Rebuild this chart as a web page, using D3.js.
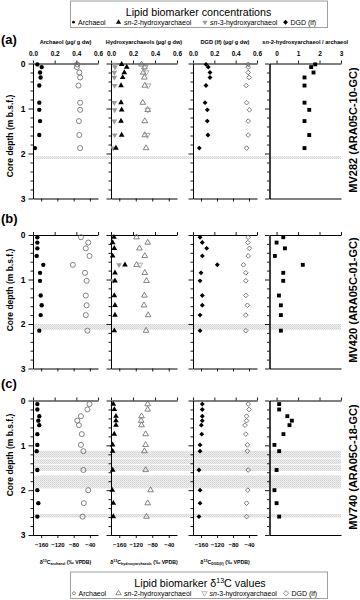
<!DOCTYPE html>
<html><head><meta charset="utf-8">
<script src="https://cdn.jsdelivr.net/npm/d3@7"></script>
<style>body{margin:0;background:#fff} svg{display:block;font-family:"Liberation Sans",Arial,sans-serif}</style>
</head><body><svg id="c" width="360" height="600"></svg>
<script>
// ---------- DATA ----------
// (a) MV282
const depthA    = [0.02,0.08,0.2,0.31,0.49,0.87,1.03,1.28,1.59,1.88];
const archConcA = [0.04,0.08,0.065,0.07,0.058,0.058,0.058,0.065,0.058,0.018];
const archIsoA  = [-71,-72,-66,-64,-68,-64,-64,-67,-66,-64];
const sn2ConcA  = [0.097,0.143,0.121,0.106,0.091,0.091,0.097,0.091,0.097,0.045];
const sn3ConcA  = [0.03,0.036,0.03,0.03,0.033,0.03,0.033,0.03,0.033,0.02];
const sn2IsoA   = [-106,-99,-102,-99,-98,-103,-91,-98,-98,-95];
const sn3IsoA   = [null,-97,-95,null,-90,null,-91,null,-92,null];
const dgdConcA  = [0.122,0.143,0.159,0.159,0.122,0.113,0.134,0.134,0.14,0.059];
const dgdIsoA   = [-42,-42,-42,-40,-47,-46,-39,-42,-42,-46];
const ratioA    = [1.8,1.61,1.72,1.3,1.3,1.3,1.52,1.3,1.52,1.3];
const bandsA    = [[2.06,2.12]];
// (b) MV420
const depthB    = [0.05,0.17,0.3,0.47,0.67,0.85,1.03,1.36,1.58,1.8,2.15];
const archConcB = [0.04,0.04,0.04,0.034,0.095,0.065,0.065,0.071,0.08,0.071,0.058];
const archIsoB  = [-62,-44,-50,-41,-82,-52,-48,-50,-48,-50,-46];
const sn2ConcB  = [0.027,0.015,0.03,0.015,0.127,0.036,0.036,0.03,0.036,0.036,0.03];
const sn3ConcB  = [null,null,null,null,0.073,null,0.02,null,null,null,null];
const sn2IsoB   = [-118,-91,-111,-98,-118,-98,-94,-99,-100,-90,-95];
const sn3IsoB   = [null,null,null,null,-110,null,null,null,null,null,null];
const dgdConcB  = [0.066,0.087,0.128,0.087,0.228,0.075,0.066,0.087,0.087,0.066,0.066];
const dgdIsoB   = [-42,-43,-39,-42,-54,-48,-48,-48,-44,-48,-48];
const ratioB    = [0.31,0.0,0.39,-0.08,1.22,0.31,0.31,0.11,0.2,0.2,0.2];
const bandsB    = [[2.0,2.13]];
// (c) MV740
const depthC    = [0.08,0.2,0.35,0.45,0.55,0.75,0.99,1.13,1.55,2.0,2.29,2.59];
const archConcC = [0.04,0.04,0.058,0.049,0.058,0.04,0.04,0.034,0.04,0.04,0.049,0.04];
const archIsoC  = [-41,-46,-62,-71,-67,-60,-62,-56,-56,-44,-55,-58];
const sn2ConcC  = [0.021,0.03,0.045,0.045,0.045,0.03,0.015,0.015,0.015,0.012,0.021,0.021];
const sn3ConcC  = [null,null,null,null,null,null,null,null,null,null,null,null];
const sn2IsoC   = [-91,-91,-106,-107,-106,-96,-96,-99,-96,-84,-91,-94];
const sn3IsoC   = [null,null,null,null,null,null,null,null,null,null,null,null];
const dgdConcC  = [0.087,0.087,0.087,0.087,0.078,0.082,0.066,0.066,0.056,0.066,0.066,0.056];
const dgdIsoC   = [-42,-40,-46,-46,-50,-48,-44,-44,-42,-43,-46,-46];
const ratioC    = [0.12,0.12,0.5,0.71,0.6,0.32,-0.1,0.12,0.0,-0.1,0.0,0.12];
const bandsC    = [[1.12,1.28],[1.30,1.42],[1.44,1.57],[1.67,1.96],[2.53,2.61]];

const concTicks  = [0,0.2,0.4,0.6];
const ratioTicks = [0,1,2,3];
const isoTicks   = [-160,-120,-80,-40];
const depthMajor = [0,1,2,3];
const depthMinor = [0.2,0.4,0.6,0.8,1.2,1.4,1.6,1.8,2.2,2.4,2.6,2.8];
const topTitles  = ["Archaeol (µg/ g dw)","Hydroxyarchaeols (µg/ g dw)","DGD (lf) (µg/ g dw)","sn-2-hydroxyarchaeol / archaeol"];
const isoSubs    = ["archaeol","hydroxyarchaeols","DGD(lf)"];

// ---------- LAYOUT ----------
const svg = d3.select('#c');
const defs = svg.append('defs');
const pat = defs.append('pattern').attr('id','hatch').attr('width',2).attr('height',2).attr('patternUnits','userSpaceOnUse');
pat.append('rect').attr('width',2).attr('height',2).attr('fill','#efefef');
pat.append('rect').attr('width',1).attr('height',1).attr('fill','#d2d2d2');
pat.append('rect').attr('x',1).attr('y',1).attr('width',1).attr('height',1).attr('fill','#dcdcdc');

const cols = [[33,98],[111,177],[193,257],[269.5,341]];
const concX = cols.slice(0,3).map(r => d3.scaleLinear().domain([0,0.6]).range(r));
const isoX  = cols.slice(0,3).map(r => d3.scaleLinear().domain([-180,-20]).range(r));
const ratioX = d3.scaleLinear().domain([-0.33,3]).range(cols[3]);

const rows = [
 {tag:'(a)', tagY:44, top:63.5, bottom:198.5, core:'MV282 (ARA05C-10-GC)', coreY:130, depthY:136, topLabels:true, bottomLabels:false,
  depth:depthA, archConc:archConcA, archIso:archIsoA, sn2Conc:sn2ConcA, sn3Conc:sn3ConcA, sn2Iso:sn2IsoA, sn3Iso:sn3IsoA, dgdConc:dgdConcA, dgdIso:dgdIsoA, ratio:ratioA, bands:bandsA},
 {tag:'(b)', tagY:223, top:235, bottom:368.5, core:'MV420 (ARA05C-01-GC)', coreY:300, depthY:290, topLabels:false, bottomLabels:false,
  depth:depthB, archConc:archConcB, archIso:archIsoB, sn2Conc:sn2ConcB, sn3Conc:sn3ConcB, sn2Iso:sn2IsoB, sn3Iso:sn3IsoB, dgdConc:dgdConcB, dgdIso:dgdIsoB, ratio:ratioB, bands:bandsB},
 {tag:'(c)', tagY:388, top:400.5, bottom:535, core:'MV740 (ARA05C-18-GC)', coreY:467, depthY:455, topLabels:false, bottomLabels:true,
  depth:depthC, archConc:archConcC, archIso:archIsoC, sn2Conc:sn2ConcC, sn3Conc:sn3ConcC, sn2Iso:sn2IsoC, sn3Iso:sn3IsoC, dgdConc:dgdConcC, dgdIso:dgdIsoC, ratio:ratioC, bands:bandsC}
];

const OPEN = '#666', GREY = '#9a9a9a';
const sym = (type,size) => d3.symbol().type(type).size(size)();

function styleAxis(g, fs){
  g.attr('font-family',null).attr('font-size',fs).attr('font-weight','bold');
  g.selectAll('path.domain').attr('stroke','#000').attr('stroke-width',1);
  g.selectAll('.tick line').attr('stroke','#000').attr('stroke-width',0.9);
}

function points(g, depth, vals, x, y, d, opts){
  const pts = depth.map((dep,i)=>({dep, v:vals[i]})).filter(p=>p.v!==null && p.v!==undefined);
  g.append('g').selectAll('path').data(pts).join('path')
   .attr('d', d)
   .attr('transform', p=>`translate(${x(p.v)},${y(p.dep)})${opts.rot?` rotate(${opts.rot})`:''}`)
   .attr('fill', opts.fill || 'none')
   .attr('stroke', opts.stroke || 'none')
   .attr('stroke-width', opts.sw || 0.8);
}

rows.forEach(r=>{
  const y = d3.scaleLinear().domain([0,3]).range([r.top, r.bottom]);
  const g = svg.append('g');
  // hatched bands
  g.selectAll('rect.band').data(r.bands).join('rect')
   .attr('x', cols[0][0]).attr('width', cols[3][1]-cols[0][0])
   .attr('y', d=>y(d[0])).attr('height', d=>y(d[1])-y(d[0]))
   .attr('fill','url(#hatch)');

  for(let p=0;p<4;p++){
    const x = p<3 ? concX[p] : ratioX;
    const [x0,x1] = cols[p];
    // left axis
    const gl = g.append('g').attr('transform',`translate(${x0},0)`);
    gl.call(d3.axisLeft(y).tickValues(depthMinor).tickSize(2.5).tickSizeOuter(0).tickFormat(''));
    styleAxis(gl, 8.5);
    const gm = g.append('g').attr('transform',`translate(${x0},0)`);
    gm.call(d3.axisLeft(y).tickValues(depthMajor).tickSize(4.5).tickSizeOuter(0).tickPadding(3)
      .tickFormat(p===0 ? d3.format('d') : ''));
    styleAxis(gm, 8.5);
    // top axis
    const gt = g.append('g').attr('transform',`translate(0,${r.top})`);
    gt.call(d3.axisTop(x).tickValues(p<3?concTicks:ratioTicks).tickSize(3).tickSizeOuter(0).tickPadding(5)
      .tickFormat(r.topLabels ? (p<3 ? d3.format('.1f') : d3.format('d')) : ''));
    styleAxis(gt, 6.5);
    // bottom axis
    const gb = g.append('g').attr('transform',`translate(0,${r.bottom})`);
    if(p<3){
      gb.call(d3.axisBottom(isoX[p]).tickValues(isoTicks).tickSize(3).tickSizeOuter(0).tickPadding(5)
        .tickFormat(r.bottomLabels ? d3.format('d') : ''));
    } else {
      gb.call(d3.axisBottom(ratioX).tickValues([]).tickSizeOuter(0));
    }
    styleAxis(gb, 6);
  }

  // marks
  const m = g.append('g');
  // panel 1
  points(m, r.depth, r.archIso, isoX[0], y, d3.symbol().type(d3.symbolCircle).size(20), {stroke:OPEN});
  points(m, r.depth, r.archConc, concX[0], y, d3.symbol().type(d3.symbolCircle).size(15), {fill:'#000'});
  // panel 2
  points(m, r.depth, r.sn2Iso, isoX[1], y, d3.symbol().type(d3.symbolTriangle).size(14), {stroke:OPEN});
  points(m, r.depth, r.sn3Iso, isoX[1], y, d3.symbol().type(d3.symbolTriangle).size(14), {stroke:GREY, rot:180});
  points(m, r.depth, r.sn3Conc, concX[1], y, d3.symbol().type(d3.symbolTriangle).size(14), {fill:GREY, rot:180});
  points(m, r.depth, r.sn2Conc, concX[1], y, d3.symbol().type(d3.symbolTriangle).size(14), {fill:'#000'});
  // panel 3
  points(m, r.depth, r.dgdIso, isoX[2], y, d3.symbol().type(d3.symbolSquare).size(11), {stroke:OPEN, rot:45});
  points(m, r.depth, r.dgdConc, concX[2], y, d3.symbol().type(d3.symbolSquare).size(12), {fill:'#000', rot:45});
  // panel 4
  points(m, r.depth, r.ratio, ratioX, y, d3.symbol().type(d3.symbolSquare).size(15), {fill:'#000'});

  // panel tag
  svg.append('text').attr('x',1).attr('y',r.tagY).attr('font-size',13).attr('font-weight','bold').text(r.tag);
  // depth label
  svg.append('text').attr('transform',`translate(13,${r.depthY}) rotate(-90)`).attr('text-anchor','middle')
    .attr('font-size',8.5).attr('font-weight','bold').text('Core depth (m b.s.f.)');
  // core label
  svg.append('text').attr('transform',`translate(357,${r.coreY}) rotate(-90)`).attr('text-anchor','middle')
    .attr('font-size',11).attr('font-weight','bold').text(r.core);
});

// top axis titles
topTitles.forEach((t,i)=>{
  const cx = (cols[i][0]+cols[i][1])/2;
  const tx = svg.append('text').attr('x',cx).attr('y',43.5).attr('text-anchor','middle')
    .attr('font-size',5.6).attr('font-weight','bold');
  if(t.startsWith('sn-')){
    tx.append('tspan').attr('font-style','italic').text('sn');
    tx.append('tspan').text(t.slice(2));
  } else tx.text(t);
});
// bottom axis titles
isoSubs.forEach((s,i)=>{
  const cx = (cols[i][0]+cols[i][1])/2;
  const tx = svg.append('text').attr('x',cx).attr('y',563.5).attr('text-anchor','middle')
    .attr('font-size',5.2).attr('font-weight','bold');
  tx.append('tspan').text('δ');
  tx.append('tspan').attr('font-size',3.6).attr('dy',-2).text('13');
  tx.append('tspan').attr('dy',2).text('C');
  tx.append('tspan').attr('font-size',3.6).attr('dy',1.5).text(s);
  tx.append('tspan').attr('dy',-1.5).text(' (‰ VPDB)');
});

// legends
function legend(y0, title, items){
  const g = svg.append('g');
  g.append('rect').attr('x',70.5).attr('y',y0+0.5).attr('width',257).attr('height',26.5)
   .attr('fill','#fff').attr('stroke','#a0a0a0').attr('stroke-width',1);
  title(g);
  items.forEach(it=>{
    g.append('path').attr('d', it.d).attr('transform',`translate(${it.sx},${y0+21.7})${it.rot?` rotate(${it.rot})`:''}`)
      .attr('fill',it.fill||'none').attr('stroke',it.stroke||'none').attr('stroke-width',0.7);
    const t = g.append('text').attr('x',it.tx).attr('y',y0+24.2).attr('font-size',7);
    if(it.label.startsWith('sn-')){
      t.append('tspan').attr('font-style','italic').text('sn');
      t.append('tspan').text(it.label.slice(2));
    } else t.text(it.label);
  });
}
legend(0.5, g=>{
  g.append('text').attr('x',198.5).attr('y',15.5).attr('text-anchor','middle').attr('font-size',10.7).text('Lipid biomarker concentrations');
},[
  {d:sym(d3.symbolCircle,6), sx:73.5, fill:'#000', tx:78, label:'Archaeol'},
  {d:sym(d3.symbolTriangle,12), sx:118.5, fill:'#000', tx:124, label:'sn-2-hydroxyarchaeol'},
  {d:sym(d3.symbolTriangle,12), sx:205, fill:GREY, rot:180, tx:210, label:'sn-3-hydroxyarchaeol'},
  {d:sym(d3.symbolSquare,12), sx:285.5, fill:'#000', rot:45, tx:290.5, label:'DGD (lf)'}
]);
legend(571.5, g=>{
  const t = g.append('text').attr('x',200).attr('y',586.5).attr('text-anchor','middle').attr('font-size',10.7);
  t.append('tspan').text('Lipid biomarker δ');
  t.append('tspan').attr('font-size',7).attr('dy',-4).text('13');
  t.append('tspan').attr('dy',4).text('C values');
},[
  {d:sym(d3.symbolCircle,7), sx:74, stroke:OPEN, tx:78.5, label:'Archaeol'},
  {d:sym(d3.symbolTriangle,12), sx:118.5, stroke:OPEN, tx:124, label:'sn-2-hydroxyarchaeol'},
  {d:sym(d3.symbolTriangle,12), sx:204.5, stroke:GREY, rot:180, tx:209.5, label:'sn-3-hydroxyarchaeol'},
  {d:sym(d3.symbolSquare,14), sx:286, stroke:OPEN, rot:45, tx:291.5, label:'DGD (lf)'}
]);
</script></body></html>
